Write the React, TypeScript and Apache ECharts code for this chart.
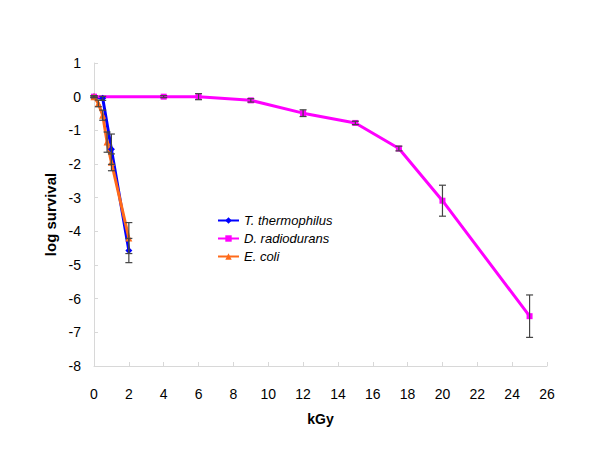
import React, { useEffect, useRef } from "react";
import * as echarts from "echarts";

const xTicks = [0, 2, 4, 6, 8, 10, 12, 14, 16, 18, 20, 22, 24, 26];
const yTicks = [1, 0, -1, -2, -3, -4, -5, -6, -7, -8];

const thermoX = [0, 0.5, 1, 2];
const thermoY = [0, -0.05, -1.56, -4.57];
const thermoErr = [0.03, 0.06, 0.45, 0.36];

const radioX = [0, 4, 6, 9, 12, 15, 17.5, 20, 25];
const radioY = [0, 0, 0, -0.11, -0.49, -0.78, -1.54, -3.09, -6.52];
const radioErr = [0.02, 0.03, 0.09, 0.05, 0.1, 0.05, 0.07, 0.46, 0.63];

const coliX = [0, 0.25, 0.5, 0.75, 1, 2];
const coliY = [0, -0.2, -0.55, -1.35, -1.95, -4.2];
const coliErr = [0.03, 0.1, 0.15, 0.3, 0.25, 0.46];

const names = ["T. thermophilus", "D. radiodurans", "E. coli"];
const colors = ["#0000ff", "#ff00ff", "#ff6a1a"];

function pairs(xs: number[], ys: number[]) {
  return xs.map((x, i) => [x, ys[i]]);
}
function errs(xs: number[], ys: number[], es: number[]) {
  return xs.map((x, i) => [x, ys[i] - es[i], ys[i] + es[i]]);
}

export default function App() {
  const ref = useRef<HTMLDivElement>(null);
  useEffect(() => {
    if (!ref.current) return;
    const chart = echarts.init(ref.current, undefined, { renderer: "svg" });
    const errSeries = (data: number[][]) => ({
      type: "custom",
      silent: true,
      z: 5,
      renderItem: (params: any, api: any) => {
        const x = api.value(0);
        const lo = api.coord([x, api.value(1)]);
        const hi = api.coord([x, api.value(2)]);
        const w = 3.5;
        const st = { stroke: "#444", lineWidth: 1.2 };
        return {
          type: "group",
          children: [
            { type: "line", shape: { x1: lo[0], y1: lo[1], x2: hi[0], y2: hi[1] }, style: st },
            { type: "line", shape: { x1: lo[0] - w, y1: lo[1], x2: lo[0] + w, y2: lo[1] }, style: st },
            { type: "line", shape: { x1: hi[0] - w, y1: hi[1], x2: hi[0] + w, y2: hi[1] }, style: st },
          ],
        };
      },
      data,
    });
    const lineSeries = (name: string, color: string, symbol: string, size: number, data: number[][]) => ({
      type: "line",
      name,
      data,
      symbol,
      symbolSize: size,
      showAllSymbol: true,
      lineStyle: { color, width: 3 },
      itemStyle: { color },
      z: 3,
    });
    chart.setOption({
      animation: false,
      backgroundColor: "#ffffff",
      grid: { left: 86, right: 45, top: 55, bottom: 90 },
      legend: {
        orient: "vertical",
        left: 204,
        top: 201,
        itemWidth: 21,
        itemHeight: 8,
        itemGap: 5,
        data: names,
        textStyle: { fontFamily: "Liberation Sans", fontStyle: "italic", fontSize: 13, color: "#000" },
      },
      xAxis: {
        type: "value",
        min: 0,
        max: 26,
        interval: 2,
        name: "kGy",
        nameLocation: "middle",
        nameGap: 46,
        nameTextStyle: { fontFamily: "Liberation Sans", fontWeight: "bold", fontSize: 14, color: "#000" },
        axisLine: { onZero: false, lineStyle: { color: "#d8d8d8" } },
        axisTick: { inside: true, length: 4, lineStyle: { color: "#d8d8d8" } },
        axisLabel: { fontFamily: "Liberation Sans", fontSize: 14, color: "#000", margin: 21 },
        splitLine: { show: false },
      },
      yAxis: {
        type: "value",
        min: -8,
        max: 1,
        interval: 1,
        name: "log survival",
        nameLocation: "middle",
        nameGap: 35,
        nameRotate: 90,
        nameTextStyle: { fontFamily: "Liberation Sans", fontWeight: "bold", fontSize: 15, color: "#000" },
        axisLine: { show: true, onZero: false, lineStyle: { color: "#d8d8d8" } },
        axisTick: { show: true, inside: true, length: 4, lineStyle: { color: "#d8d8d8" } },
        axisLabel: { fontFamily: "Liberation Sans", fontSize: 14, color: "#000", margin: 13 },
        splitLine: { show: false },
      },
      series: [
        lineSeries(names[0], colors[0], "diamond", 7, pairs(thermoX, thermoY)),
        lineSeries(names[1], colors[1], "rect", 6, pairs(radioX, radioY)),
        lineSeries(names[2], colors[2], "triangle", 7, pairs(coliX, coliY)),
        errSeries(errs(thermoX, thermoY, thermoErr)),
        errSeries(errs(radioX, radioY, radioErr)),
        errSeries(errs(coliX, coliY, coliErr)),
      ],
    });
    return () => chart.dispose();
  }, []);
  return <div ref={ref} style={{ width: 584, height: 448 }} />;
}
